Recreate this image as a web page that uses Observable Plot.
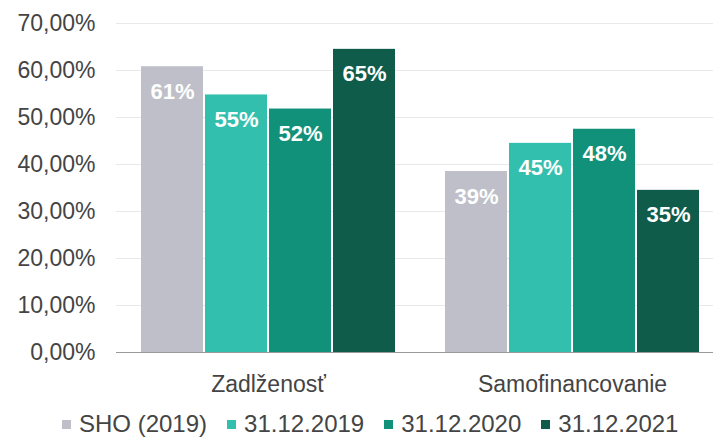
<!DOCTYPE html>
<html>
<head>
<meta charset="utf-8">
<script src="https://cdn.jsdelivr.net/npm/d3@7"></script>
<script src="https://cdn.jsdelivr.net/npm/@observablehq/plot@0.6"></script>
<style>
  html, body { margin: 0; padding: 0; background: #fff; }
  #wrap { position: relative; width: 713px; height: 440px; font-family: "Liberation Sans", Arial, sans-serif; }
  #legend { position: absolute; left: 62px; top: 410px; display: flex; align-items: center; font-size: 24px; color: #444; white-space: nowrap; }
  #legend .item { display: flex; align-items: center; margin-right: 20px; }
  #legend .sw { width: 9px; height: 9px; margin-right: 8px; }
</style>
</head>
<body>
<div id="wrap"><div id="chart"></div><div id="legend"></div></div>
<script>
const groups = ["Zadlženosť", "Samofinancovanie"];
const series = ["SHO (2019)", "31.12.2019", "31.12.2020", "31.12.2021"];
const zadlzenost = [60.8, 54.8, 51.8, 64.5];
const samofinancovanie = [38.5, 44.5, 47.5, 34.5];
const colors = ["#bebfc8", "#33bfae", "#11907a", "#0f5c4b"];
const yTicks = [0, 10, 20, 30, 40, 50, 60, 70];

const groupValues = [zadlzenost, samofinancovanie];
const data = [];
groups.forEach((g, gi) => series.forEach((s, si) => data.push({group: g, series: s, value: groupValues[gi][si]})));

const fmt = d => d.toFixed(2).replace(".", ",") + "%";

const chart = Plot.plot({
  width: 713,
  height: 400,
  marginLeft: 116,
  marginRight: 0,
  marginTop: 23,
  marginBottom: 48,
  style: {fontFamily: "Liberation Sans, Arial, sans-serif", fontSize: "23px", color: "#444", background: "#fff"},
  facet: {data, x: "group"},
  fx: {domain: groups, range: [116, 724], padding: 0, axis: "bottom", tickSize: 0, tickPadding: 23, label: null},
  x: {domain: series, paddingInner: 0.03, paddingOuter: 0.37, axis: null},
  y: {domain: [0, 70], ticks: yTicks, tickFormat: fmt, tickSize: 0, tickPadding: 21, label: null},
  color: {domain: series, range: colors},
  marks: [
    Plot.ruleY(yTicks.filter(d => d > 0), {stroke: "#e8e8e8", strokeWidth: 1}),
    Plot.barY(data, {x: "series", y: "value", fill: "series"}),
    Plot.text(data, {x: "series", y: "value", text: d => Math.round(d.value) + "%", dy: 25, fill: "white", fontWeight: "bold", fontSize: 22}),
    Plot.ruleY([0], {stroke: "#9a9a9a", strokeWidth: 1})
  ]
});
document.getElementById("chart").appendChild(chart);

const legend = document.getElementById("legend");
series.forEach((s, i) => {
  const item = document.createElement("div");
  item.className = "item";
  const sw = document.createElement("span");
  sw.className = "sw";
  sw.style.background = colors[i];
  const t = document.createElement("span");
  t.textContent = s;
  item.appendChild(sw);
  item.appendChild(t);
  legend.appendChild(item);
});
</script>
</body>
</html>
